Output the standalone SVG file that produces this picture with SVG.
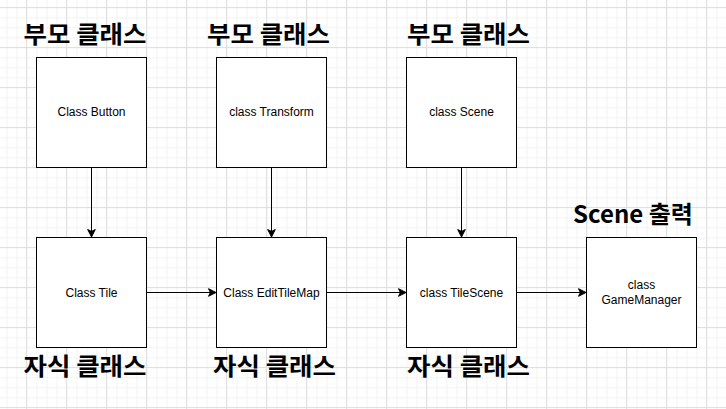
<svg xmlns="http://www.w3.org/2000/svg" width="726" height="409" viewBox="0 0 726 409">
<defs>
<pattern id="minor" x="6.5" y="7.3" width="10" height="10" patternUnits="userSpaceOnUse">
<path d="M0.5,0 V10 M0,0.5 H10" fill="none" stroke="#f3f3f3" stroke-width="1"/>
</pattern>
<pattern id="major" x="26" y="7" width="40" height="40" patternUnits="userSpaceOnUse">
<path d="M0.5,0 V40 M0,0.5 H40" fill="none" stroke="#e0e0e0" stroke-width="1"/>
</pattern>
<marker id="arr" markerUnits="userSpaceOnUse" markerWidth="10" markerHeight="10" viewBox="-8 -5 10 10" refX="0" refY="0" orient="auto">
<path d="M-7.5,-3.8 L0,0 L-7.5,3.8 L-5.6,0 Z" fill="#000" stroke="#000" stroke-width="1"/>
</marker>
<style>
.box{fill:#fff;stroke:#000;stroke-width:1}
.lbl{font-family:"Liberation Sans",Arial,sans-serif;font-size:12px;fill:#000;text-anchor:middle}
.ttl{font-family:"Noto Sans CJK KR","Liberation Sans",sans-serif;font-size:24px;font-weight:bold;fill:#000;text-anchor:middle}
.edge{fill:none;stroke:#000;stroke-width:1;marker-end:url(#arr)}
</style>
</defs>
<rect width="726" height="409" fill="#fff"/>
<rect width="726" height="409" fill="url(#minor)"/>
<rect width="726" height="409" fill="url(#major)"/>

<g id="title-parent1"><text class="ttl" x="85" y="43" textLength="123" lengthAdjust="spacingAndGlyphs">부모 클래스</text></g>
<g id="title-parent2"><text class="ttl" x="268.5" y="43" textLength="123" lengthAdjust="spacingAndGlyphs">부모 클래스</text></g>
<g id="title-parent3"><text class="ttl" x="468.5" y="43" textLength="123" lengthAdjust="spacingAndGlyphs">부모 클래스</text></g>
<g id="title-child1"><text class="ttl" x="85" y="375" textLength="123" lengthAdjust="spacingAndGlyphs">자식 클래스</text></g>
<g id="title-child2"><text class="ttl" x="274.5" y="375" textLength="123" lengthAdjust="spacingAndGlyphs">자식 클래스</text></g>
<g id="title-child3"><text class="ttl" x="468.5" y="375" textLength="123" lengthAdjust="spacingAndGlyphs">자식 클래스</text></g>
<g id="title-scene"><text class="ttl" x="633" y="223">Scene 출력</text></g>

<g id="node-button"><rect class="box" x="36.5" y="57.5" width="110" height="110"/><text class="lbl" x="91.5" y="116">Class Button</text></g>
<g id="node-transform"><rect class="box" x="216.5" y="57.5" width="110" height="110"/><text class="lbl" x="271.5" y="116">class Transform</text></g>
<g id="node-scene"><rect class="box" x="406.5" y="57.5" width="110" height="110"/><text class="lbl" x="461.5" y="116">class Scene</text></g>
<g id="node-tile"><rect class="box" x="36.5" y="237.5" width="110" height="110"/><text class="lbl" x="91.5" y="296.5">Class Tile</text></g>
<g id="node-edittilemap"><rect class="box" x="216.5" y="237.5" width="110" height="110"/><text class="lbl" x="271.5" y="296.5">Class EditTileMap</text></g>
<g id="node-tilescene"><rect class="box" x="406.5" y="237.5" width="110" height="110"/><text class="lbl" x="461.5" y="296.5">class TileScene</text></g>
<g id="node-gamemanager"><rect class="box" x="586.5" y="237.5" width="110" height="110"/><text class="lbl" x="641.5" y="289">class</text><text class="lbl" x="641.5" y="304">GameManager</text></g>

<g id="connectors">
<path class="edge" d="M91.5,167.5 V237"/>
<path class="edge" d="M271.5,167.5 V237"/>
<path class="edge" d="M461.5,167.5 V237"/>
<path class="edge" d="M146.5,292.5 H216"/>
<path class="edge" d="M326.5,292.5 H406"/>
<path class="edge" d="M516.5,292.5 H586"/>
</g>
</svg>
